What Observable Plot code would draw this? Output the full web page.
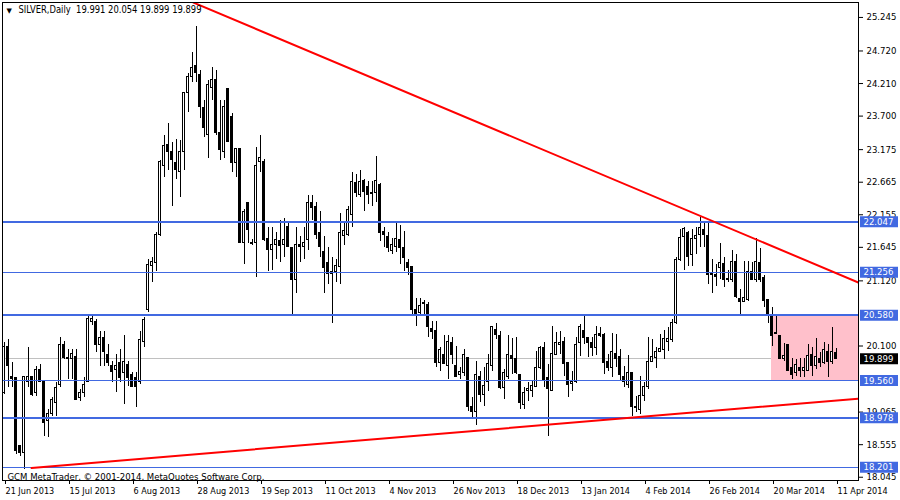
<!DOCTYPE html>
<html><head><meta charset="utf-8">
<script src="https://cdn.jsdelivr.net/npm/d3@7"></script>
<script src="https://cdn.jsdelivr.net/npm/@observablehq/plot@0.6"></script>
<style>html,body{margin:0;padding:0;background:#fff;overflow:hidden}#chart svg{display:block}</style>
</head><body><div id="chart"></div>
<script>
const symbolName = "SILVER,Daily";
const lastQuote = [19.991, 20.054, 19.899, 19.899];
const caption = "GCM MetaTrader, \u00a9 2001-2014, MetaQuotes Software Corp.";

const dateLabels = ["21 Jun 2013","15 Jul 2013","6 Aug 2013","28 Aug 2013","19 Sep 2013","11 Oct 2013","4 Nov 2013","26 Nov 2013","18 Dec 2013","13 Jan 2014","4 Feb 2014","26 Feb 2014","20 Mar 2014","11 Apr 2014"];
const dateTickBars = [0,16,32,48,64,80,96,112,128,144,160,176,192,208];

const open = [
19.37,20.09,19.62,19.60,18.53,18.43,19.53,19.62,19.37,19.73,
19.53,18.92,19.03,19.21,19.49,20.12,19.89,19.90,19.93,19.29,
19.37,19.53,20.48,20.48,20.12,20.23,19.96,19.78,19.73,19.84,
19.68,19.81,19.65,19.60,19.53,20.17,20.67,21.35,21.40,21.84,
22.92,23.24,23.14,22.96,22.82,23.14,24.06,24.31,24.49,24.34,
23.82,23.40,24.14,24.26,23.43,23.14,24.12,23.68,22.96,23.18,
21.71,22.34,21.71,21.71,22.98,22.98,21.78,21.60,21.68,21.74,
21.68,21.96,21.64,21.14,21.68,21.65,21.76,22.34,22.28,21.87,
21.57,21.40,21.26,21.26,21.34,21.82,21.84,22.15,22.65,22.46,
22.68,22.59,22.49,22.49,22.62,21.89,21.81,21.59,21.65,21.76,
21.64,21.40,21.34,20.67,20.62,20.75,20.74,20.37,20.34,19.84,
19.96,19.78,20.14,19.79,19.64,19.68,19.92,19.15,19.06,19.62,
19.34,19.53,19.78,20.35,20.26,19.45,19.62,19.95,19.89,19.65,
19.18,19.40,19.40,19.46,19.76,20.07,19.60,19.40,19.96,20.12,
20.17,19.84,19.51,19.53,20.14,20.34,20.23,20.15,20.07,20.29,
20.28,19.85,19.75,19.98,19.93,19.62,19.49,19.67,19.15,19.10,
19.31,19.46,19.85,19.92,20.00,20.04,20.17,20.20,20.46,21.45,
21.81,21.87,21.53,21.78,21.84,21.92,21.82,21.25,21.21,21.32,
21.39,21.15,21.14,21.42,20.84,20.79,20.82,21.26,21.14,21.40,
21.17,20.82,20.59,20.31,20.25,19.89,20.12,19.76,19.68,19.76,
19.71,19.71,19.96,19.79,19.90,19.84,20.00,19.85,19.991];
const high = [
20.15,20.20,19.84,19.60,18.54,19.62,20.07,19.62,19.78,19.81,
19.54,19.10,19.29,19.53,20.24,20.17,20.04,20.04,20.04,19.42,
19.60,20.56,20.57,20.51,20.32,20.32,20.12,19.85,19.96,20.04,
20.27,19.85,19.68,19.68,20.32,20.54,21.45,21.48,21.87,23.01,
23.40,23.59,23.28,23.34,23.32,24.07,24.37,24.70,25.10,24.42,
23.95,24.26,24.46,24.42,23.95,23.95,24.14,23.74,23.20,23.18,
22.23,22.35,21.76,23.21,23.40,23.02,21.96,21.96,21.87,22.07,
22.10,22.02,21.64,21.96,21.81,21.96,22.46,22.46,22.35,22.20,
21.81,21.65,21.49,21.45,22.18,22.02,22.28,22.81,22.78,22.85,
22.71,22.67,22.67,23.07,22.64,21.96,21.87,21.79,22.02,21.99,
21.89,21.45,21.35,20.85,20.85,20.82,20.78,20.48,20.48,20.07,
20.27,20.27,20.24,20.09,19.76,20.04,19.92,19.29,19.85,19.70,
19.76,19.96,20.40,20.46,20.32,19.73,20.27,20.21,20.23,19.65,
19.45,19.53,19.54,20.02,20.09,20.15,19.81,20.40,20.31,20.32,
20.23,19.84,19.70,20.23,20.43,20.56,20.23,20.23,20.40,20.39,
20.29,19.96,20.29,20.28,20.04,19.78,19.95,19.68,19.31,19.62,
19.53,20.24,20.20,20.07,20.28,20.35,20.39,20.51,21.48,21.93,
21.96,21.89,21.92,21.96,22.12,22.02,22.02,21.45,21.37,21.70,
21.48,21.29,21.60,21.53,20.98,21.42,21.42,21.40,21.78,21.62,
21.21,20.82,20.70,20.59,20.26,20.14,20.12,19.90,19.89,19.90,
19.90,20.12,20.07,20.21,20.00,20.15,20.12,20.39,20.054];
const low = [
19.34,19.45,19.45,18.40,18.37,18.17,19.45,19.31,19.31,19.54,
18.68,18.67,19.00,19.00,19.45,19.89,19.57,19.57,19.26,19.23,
19.29,19.53,20.42,20.00,19.78,19.78,19.78,19.53,19.37,19.53,
19.18,19.46,19.45,19.14,19.49,20.07,20.62,21.09,21.26,21.81,
22.74,22.85,22.28,22.70,22.43,22.85,23.76,24.23,24.23,23.67,
23.37,23.04,23.95,23.40,23.01,23.04,23.28,22.81,22.74,21.71,
21.37,21.71,21.67,21.18,22.81,21.74,21.26,21.29,21.45,21.40,
21.48,21.65,20.59,20.93,21.40,21.45,21.60,22.07,21.76,21.49,
20.93,21.06,20.46,21.09,21.06,21.68,21.81,21.95,22.43,22.43,
22.21,22.31,22.28,22.34,21.73,21.65,21.56,21.53,21.57,21.37,
21.26,21.21,20.56,20.40,20.59,20.56,20.24,20.20,19.76,19.70,
19.81,19.57,19.81,19.60,19.57,19.62,19.07,18.98,18.85,19.21,
19.15,19.39,19.70,20.20,19.42,19.26,19.57,19.65,19.65,19.10,
19.10,19.23,19.29,19.45,19.73,19.45,18.68,19.39,19.95,19.96,
19.62,19.29,19.39,19.51,19.93,20.12,19.92,19.93,19.95,20.24,
19.65,19.70,19.60,19.76,19.54,19.45,19.43,19.00,19.06,19.03,
19.23,19.42,19.84,19.75,20.00,19.89,20.01,20.15,20.43,21.42,
21.29,21.34,21.34,21.53,21.64,21.64,21.06,20.93,21.03,21.14,
21.01,21.09,21.09,20.85,20.59,20.78,20.79,21.14,21.09,21.10,
20.70,20.46,20.09,20.29,19.89,19.85,19.70,19.57,19.62,19.60,
19.60,19.70,19.62,19.73,19.76,19.81,19.60,19.81,19.899];
const close = [
20.09,19.78,19.59,18.45,18.43,19.62,19.62,19.34,19.73,19.54,
18.90,19.03,19.26,19.45,20.12,19.92,19.92,19.98,19.26,19.37,
19.49,20.53,20.53,20.12,20.23,20.00,19.84,19.70,19.78,19.60,
19.85,19.60,19.46,19.46,20.20,20.51,21.37,21.42,21.84,22.98,
23.23,23.14,23.01,22.85,23.14,24.06,24.31,24.46,24.37,23.84,
23.51,24.18,24.26,23.43,23.17,23.84,23.29,22.96,23.18,21.71,
22.20,21.92,21.70,22.92,23.04,21.76,21.60,21.68,21.76,21.67,
21.76,21.65,21.14,21.68,21.65,21.71,22.34,22.26,21.84,21.65,
21.32,21.23,21.23,21.35,21.87,21.90,22.23,22.67,22.49,22.67,
22.51,22.46,22.48,22.68,21.87,21.84,21.64,21.68,21.77,21.64,
21.48,21.32,20.67,20.59,20.73,20.78,20.39,20.32,19.84,20.04,
19.82,20.17,19.96,19.62,19.70,19.96,19.14,19.07,19.65,19.34,
19.48,19.82,20.39,20.28,19.45,19.68,19.96,19.89,19.68,19.21,
19.37,19.43,19.48,19.76,20.07,19.57,19.43,19.98,20.14,20.15,
19.82,19.49,19.54,20.12,20.39,20.23,20.15,20.07,20.28,20.26,
19.84,19.76,20.00,19.89,19.65,19.54,19.68,19.14,19.14,19.31,
19.46,19.85,19.93,20.00,20.06,20.21,20.21,20.46,21.45,21.79,
21.93,21.50,21.78,21.82,21.95,21.84,21.21,21.21,21.18,21.40,
21.14,21.14,21.42,20.87,20.79,20.85,21.26,21.14,21.42,21.14,
20.81,20.59,20.25,20.29,19.89,19.95,19.71,19.65,19.81,19.71,
19.75,19.95,19.79,19.93,19.84,20.04,19.85,20.01,19.899];

const yTicks = [25.245,24.720,24.210,23.700,23.175,22.665,22.155,21.645,21.120,20.100,19.065,18.555,18.045];
const thickLevels = [22.047, 20.580, 18.978];
const thinLevels = [21.256, 19.560, 18.201];
const bidPrice = 19.899;

const upperTrendBars = [47.5, 213.75];
const upperTrendPrices = [25.477, 21.094];
const lowerTrendBars = [7, 213.75];
const lowerTrendPrices = [18.19, 19.275];

const zoneBars = [192, 213.75];
const zonePrices = [19.560, 20.580];

// ---- build
const candles = open.map((o, i) => ({i, o, h: high[i], l: low[i], c: close[i], up: close[i] > o}));
const upC = candles.filter(d => d.up);
const dnC = candles.filter(d => !d.up);
const minBody = 0.016;
const bodyY2 = d => Math.abs(d.c - d.o) < minBody ? d.o + (d.up ? minBody : -minBody) : d.c;
const upperTrend = upperTrendBars.map((b, k) => ({b, p: upperTrendPrices[k]}));
const lowerTrend = lowerTrendBars.map((b, k) => ({b, p: lowerTrendPrices[k]}));
const xEnd = 213.75;
const levelBlue = "#4169e1";
const allLevels = [...thickLevels, ...thinLevels];
const titleText = symbolName + "\u00a0\u00a0" + lastQuote.map(v => v.toFixed(3)).join(" ");

const chart = Plot.plot({
  width: 900, height: 500,
  marginLeft: 2, marginRight: 42, marginTop: 2, marginBottom: 20,
  x: {domain: [-0.25, xEnd], axis: null, label: null},
  y: {domain: [17.994, 25.479], axis: null, label: null},
  style: {fontFamily: '"DejaVu Sans Condensed","Liberation Sans",Arial,sans-serif', fontSize: "9px", background: "white", color: "black"},
  marks: [
    Plot.ruleY([bidPrice], {y: d => d, stroke: "#c0c0c0", strokeWidth: 1, shapeRendering: "crispEdges"}),
    Plot.rect([0], {x1: zoneBars[0], x2: zoneBars[1], y1: zonePrices[0], y2: zonePrices[1], fill: "#ffc0cb"}),
    Plot.ruleX(candles, {x: "i", y1: "l", y2: "h", stroke: "black", strokeWidth: 1, dx: 0.5, shapeRendering: "crispEdges"}),
    Plot.rect(upC, {x1: d => d.i - 0.125, x2: d => d.i + 0.375, y1: "o", y2: bodyY2, fill: "white", stroke: "black", strokeWidth: 1, shapeRendering: "crispEdges"}),
    Plot.rect(dnC, {x1: d => d.i - 0.125, x2: d => d.i + 0.375, y1: "o", y2: bodyY2, fill: "black", stroke: "black", strokeWidth: 1, shapeRendering: "crispEdges"}),
    Plot.ruleY(thinLevels, {y: d => d, stroke: levelBlue, strokeWidth: 1, shapeRendering: "crispEdges"}),
    Plot.ruleY(thickLevels, {y: d => d, stroke: levelBlue, strokeWidth: 2, shapeRendering: "crispEdges"}),
    Plot.line(upperTrend, {x: "b", y: "p", stroke: "red", strokeWidth: 2, clip: true}),
    Plot.line(lowerTrend, {x: "b", y: "p", stroke: "red", strokeWidth: 2, clip: true}),
    Plot.frame({stroke: "black", shapeRendering: "crispEdges"}),
    Plot.axisX(dateTickBars, {anchor: "bottom", tickSize: 4, tickPadding: 3, textAnchor: "start", dx: 2, fill: "black",
      tickFormat: d => dateLabels[dateTickBars.indexOf(d)], label: null}),
    Plot.axisY(yTicks, {anchor: "right", tickSize: 4, tickPadding: 4, fill: "black", fontSize: 9.5, tickFormat: d => d.toFixed(3), label: null}),
    Plot.ruleY(allLevels, {y: d => d, x1: xEnd + 0.5, x2: xEnd + 10, stroke: levelBlue, strokeWidth: 11}),
    Plot.text(allLevels, {y: d => d, text: d => d.toFixed(3), frameAnchor: "right", dx: 5, textAnchor: "start", fill: "white", fontSize: 9.5}),
    Plot.ruleY([bidPrice], {y: d => d, x1: xEnd + 0.5, x2: xEnd + 10, stroke: "black", strokeWidth: 11}),
    Plot.text([bidPrice], {y: d => d, text: d => d.toFixed(3), frameAnchor: "right", dx: 5, textAnchor: "start", fill: "white", fontSize: 9.5}),
    Plot.text(["\u25BC"], {frameAnchor: "top-left", dx: 4, dy: 6, textAnchor: "start", lineAnchor: "top", fontSize: 7, fontFamily: "DejaVu Sans"}),
    Plot.text([titleText], {frameAnchor: "top-left", dx: 16, dy: 3, textAnchor: "start", lineAnchor: "top", fontSize: 10, fill: "black"}),
    Plot.text([caption], {frameAnchor: "bottom-left", dx: 5, dy: -1, textAnchor: "start", lineAnchor: "bottom", fontSize: 9.5, fill: "black"})
  ]
});
// fit the title to the width the terminal font gives it
d3.select(chart).selectAll("text").filter(function () { return this.textContent === titleText; })
  .attr("textLength", 183).attr("lengthAdjust", "spacingAndGlyphs");
document.getElementById("chart").append(chart);
</script>
</body></html>
